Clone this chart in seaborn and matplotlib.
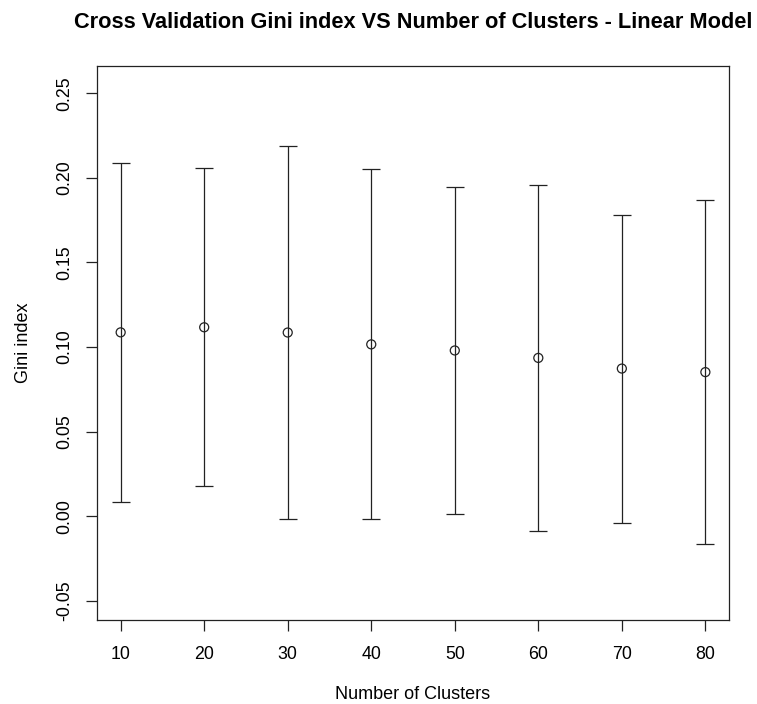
import numpy as np
import pandas as pd
import matplotlib
matplotlib.use("Agg")
import matplotlib.pyplot as plt
import seaborn as sns

# Cross-validation results per cluster count: mean Gini index and its standard deviation
clusters = [10, 20, 30, 40, 50, 60, 70, 80]
gini_mean = [0.1087, 0.1117, 0.1086, 0.1016, 0.0980, 0.0936, 0.0873, 0.0852]
gini_sd = [0.1003, 0.0939, 0.1102, 0.1034, 0.0967, 0.1022, 0.0910, 0.1015]
x_ticks = [10, 20, 30, 40, 50, 60, 70, 80]
y_ticks = [-0.05, 0.00, 0.05, 0.10, 0.15, 0.20, 0.25]

df = pd.DataFrame({"clusters": clusters, "gini": gini_mean, "sd": gini_sd})

sns.set_theme(style="ticks")
plt.rcParams["font.family"] = ["Liberation Sans", "DejaVu Sans"]

fig = plt.figure(figsize=(7.57, 7.04), dpi=100)
ax = fig.add_axes([0.1285, 0.1193, 0.8342, 0.7874])

ink = "#222222"
ax.errorbar(df["clusters"], df["gini"], yerr=df["sd"], fmt="none",
            ecolor=ink, elinewidth=0.9, capsize=6.2, capthick=0.9, zorder=2)
sns.scatterplot(data=df, x="clusters", y="gini", ax=ax, marker="o", s=42,
                facecolor="none", edgecolor=ink, linewidth=0.9, zorder=3)

ax.set_xlim(7.2, 82.8)
ax.set_ylim(-0.0613, 0.2663)
ax.set_xticks(x_ticks)
ax.set_xticklabels([str(v) for v in x_ticks])
ax.set_yticks(y_ticks)
ax.set_yticklabels([f"{v:.2f}" for v in y_ticks], rotation=90, va="center")

for side in ax.spines.values():
    side.set_color(ink)
    side.set_linewidth(0.9)

ax.tick_params(axis="both", direction="out", length=8, width=0.9, color=ink,
               labelsize=12.8, labelcolor="black")
ax.tick_params(axis="x", pad=11)
ax.tick_params(axis="y", pad=9)

ax.set_xlabel("Number of Clusters", fontsize=13, labelpad=16, color="black")
ax.set_ylabel("Gini index", fontsize=13, labelpad=18, color="black")
ax.set_title("Cross Validation Gini index VS Number of Clusters - Linear Model",
             fontsize=15.7, fontweight="bold", pad=27, color="black")

fig.savefig("out.png", dpi=100, facecolor="white")
